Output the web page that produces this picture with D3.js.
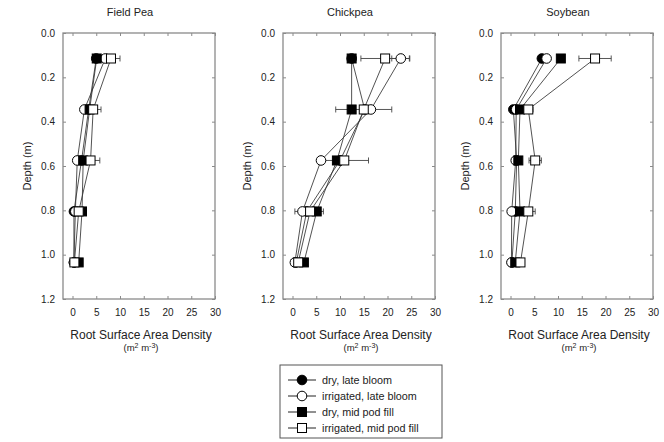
<!DOCTYPE html>
<html>
<head>
<meta charset="utf-8">
<script src="https://cdn.jsdelivr.net/npm/d3@7/dist/d3.min.js"></script>
<style>
  body { margin: 0; background: #fff; }
  text { font-family: "Liberation Sans", Arial, Helvetica, sans-serif; fill: #222; }
</style>
</head>
<body>
<svg id="chart"></svg>
<script>
// chart size
const width = 664;
const height = 442;

// data
const crops = ["Field Pea", "Chickpea", "Soybean"];
const depths = [0.115, 0.345, 0.575, 0.805, 1.035];
const seriesNames = ["dry, late bloom", "irrigated, late bloom", "dry, mid pod fill", "irrigated, mid pod fill"];
const xTicks = [0, 5, 10, 15, 20, 25, 30];
const yTicks = [0, 0.2, 0.4, 0.6, 0.8, 1.0, 1.2];

// Field Pea
const peaDryBloom = [5.0, 3.4, 1.9, 0.3, 0.3];
const peaIrrBloom = [6.9, 2.5, 1.0, 0.6, 0.3];
const peaDryPod   = [5.1, 3.6, 2.25, 2.0, 1.3];
const peaIrrPod   = [8.1, 4.35, 3.8, 1.3, 0.4];
const peaIrrPodErr = [1.9, 1.65, 1.95, 0, 0];

// Chickpea
const chickDryBloom = [12.45, 15.2, 10.0, 3.0, 0.8];
const chickIrrBloom = [22.8, 16.5, 6.0, 2.1, 0.5];
const chickDryPod   = [12.45, 12.45, 9.35, 5.1, 2.4];
const chickIrrPod   = [19.5, 15.0, 10.9, 3.7, 1.2];
const chickIrrBloomErr = [1.9, 0, 0, 1.6, 0.8];
const chickDryPodErr   = [0, 0, 0, 1.4, 0];
const chickIrrPodErr   = [5.1, 5.9, 5.1, 0, 0];

// Soybean
const soyDryBloom = [6.6, 0.6, 1.3, 1.0, 0.3];
const soyIrrBloom = [7.6, 1.2, 1.1, 0.25, 0.2];
const soyDryPod   = [10.6, 2.0, 1.65, 2.0, 1.0];
const soyIrrPod   = [17.8, 3.75, 5.2, 3.75, 2.1];
const soyIrrPodErr = [3.4, 1.0, 1.3, 1.45, 0];

const zeros = [0, 0, 0, 0, 0];

// per panel: values and errors for the 4 series (legend order)
const panelValues = [
  [peaDryBloom, peaIrrBloom, peaDryPod, peaIrrPod],
  [chickDryBloom, chickIrrBloom, chickDryPod, chickIrrPod],
  [soyDryBloom, soyIrrBloom, soyDryPod, soyIrrPod]
];
const panelErrors = [
  [zeros, zeros, zeros, peaIrrPodErr],
  [zeros, chickIrrBloomErr, chickDryPodErr, chickIrrPodErr],
  [zeros, zeros, zeros, soyIrrPodErr]
];

// marker style per series
const markerShape = ["circle", "circle", "square", "square"];
const markerFill = ["#000", "#fff", "#000", "#fff"];

// layout
const panelLeft = [63, 283, 501];
const panelW = 152;
const plotTop = 33;
const plotBottom = 299;
const frameColor = "#8a8a8a";

const svg = d3.select("#chart")
  .attr("width", width)
  .attr("height", height);

function drawMarker(g, shape, fill, cx, cy) {
  if (shape === "circle") {
    g.append("circle")
      .attr("cx", cx).attr("cy", cy).attr("r", 4.8)
      .attr("fill", fill).attr("stroke", "#000").attr("stroke-width", 1);
  } else {
    g.append("rect")
      .attr("x", cx - 4.5).attr("y", cy - 4.5)
      .attr("width", 9).attr("height", 9)
      .attr("fill", fill).attr("stroke", "#000").attr("stroke-width", 1);
  }
}

crops.forEach((crop, p) => {
  const left = panelLeft[p];
  const x = d3.scaleLinear().domain([-2, 30]).range([left, left + panelW]);
  const y = d3.scaleLinear().domain([0, 1.2]).range([plotTop, plotBottom]);

  const g = svg.append("g");

  // frame
  g.append("rect")
    .attr("x", left).attr("y", plotTop)
    .attr("width", panelW).attr("height", plotBottom - plotTop)
    .attr("fill", "none").attr("stroke", frameColor).attr("stroke-width", 1.3);

  // axes with inward ticks
  const bottomAxis = d3.axisBottom(x).tickValues(xTicks).tickSize(-3).tickPadding(10).tickFormat(d3.format("d"));
  const topAxis = d3.axisTop(x).tickValues(xTicks).tickSize(-3).tickFormat("");
  const leftAxis = d3.axisLeft(y).tickValues(yTicks).tickSize(-3).tickPadding(8).tickFormat(d3.format(".1f"));
  const rightAxis = d3.axisRight(y).tickValues(yTicks).tickSize(-3).tickFormat("");

  [[bottomAxis, `translate(0,${plotBottom})`], [topAxis, `translate(0,${plotTop})`],
   [leftAxis, `translate(${left},0)`], [rightAxis, `translate(${left + panelW},0)`]].forEach(([ax, tr]) => {
    const a = g.append("g").attr("transform", tr).call(ax);
    a.select(".domain").remove();
    a.selectAll("line").attr("stroke", frameColor);
    a.selectAll("text").style("font-size", "10px").attr("fill", "#333");
  });

  // title
  g.append("text")
    .attr("x", left + panelW / 2 - 9).attr("y", 16)
    .attr("text-anchor", "middle")
    .style("font-size", "11px")
    .text(crop);

  // y axis label
  g.append("text")
    .attr("transform", `translate(${left - 32},${(plotTop + plotBottom) / 2}) rotate(-90)`)
    .attr("text-anchor", "middle")
    .style("font-size", "11px")
    .text("Depth (m)");

  // x axis label
  g.append("text")
    .attr("x", left + panelW / 2 + 2).attr("y", 339)
    .attr("text-anchor", "middle")
    .style("font-size", "12px")
    .text("Root Surface Area Density");

  const units = g.append("text")
    .attr("x", left + panelW / 2 + 2).attr("y", 351)
    .attr("text-anchor", "middle")
    .style("font-size", "9.5px");
  units.append("tspan").text("(m");
  units.append("tspan").attr("dy", -3).style("font-size", "7px").text("2");
  units.append("tspan").attr("dy", 3).text(" m");
  units.append("tspan").attr("dy", -3).style("font-size", "7px").text("-3");
  units.append("tspan").attr("dy", 3).text(")");

  const vals = panelValues[p];
  const errs = panelErrors[p];

  // lines
  const line = d3.line().x(d => x(d[0])).y(d => y(d[1]));
  vals.forEach((v) => {
    g.append("path")
      .datum(v.map((val, i) => [val, depths[i]]))
      .attr("d", line)
      .attr("fill", "none")
      .attr("stroke", "#333")
      .attr("stroke-width", 0.85);
  });

  // error bars
  vals.forEach((v, s) => {
    v.forEach((val, i) => {
      const e = errs[s][i];
      if (!e) return;
      const cy = y(depths[i]);
      const x0 = x(val - e), x1 = x(val + e);
      g.append("line").attr("x1", x0).attr("x2", x1).attr("y1", cy).attr("y2", cy)
        .attr("stroke", "#444").attr("stroke-width", 0.9);
      [x0, x1].forEach(xx => {
        g.append("line").attr("x1", xx).attr("x2", xx).attr("y1", cy - 3).attr("y2", cy + 3)
          .attr("stroke", "#444").attr("stroke-width", 0.9);
      });
    });
  });

  // markers
  vals.forEach((v, s) => {
    v.forEach((val, i) => {
      drawMarker(g, markerShape[s], markerFill[s], x(val), y(depths[i]));
    });
  });
});

// legend
const legend = svg.append("g");
legend.append("rect")
  .attr("x", 280).attr("y", 365)
  .attr("width", 162).attr("height", 73)
  .attr("fill", "#fff").attr("stroke", "#555").attr("stroke-width", 1);

const legendY = d3.scalePoint().domain(seriesNames).range([380, 428]);
seriesNames.forEach((name, s) => {
  const ly = legendY(name);
  legend.append("line")
    .attr("x1", 288).attr("x2", 316).attr("y1", ly).attr("y2", ly)
    .attr("stroke", "#222").attr("stroke-width", 1);
  drawMarker(legend, markerShape[s], markerFill[s], 302, ly);
  legend.append("text")
    .attr("x", 322).attr("y", ly + 3.8)
    .style("font-size", "10.8px")
    .text(name);
});
</script>
</body>
</html>
